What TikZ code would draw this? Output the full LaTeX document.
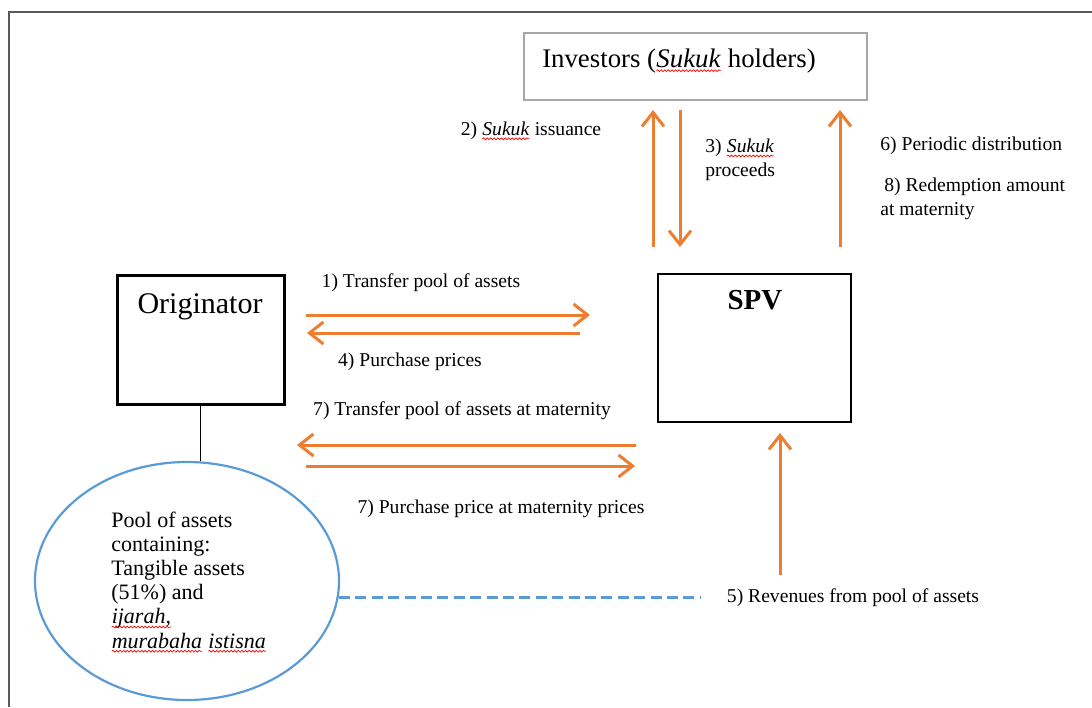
\documentclass[tikz,border=0pt]{standalone}
\usepackage{fontspec}
\setmainfont{Liberation Serif}
\usetikzlibrary{arrows.meta,decorations.pathmorphing,shapes.geometric}
\definecolor{orarrow}{HTML}{ED7D31}
\definecolor{blueline}{HTML}{5B9BD5}
\definecolor{framegray}{HTML}{595959}
\definecolor{boxgray}{HTML}{A6A6A6}
\newcommand{\squig}[1]{\tikz[baseline=(sqw.base),x=1pt,y=1pt]{\node[inner sep=0pt,outer sep=0pt,draw=none,anchor=base](sqw) at (0,0){#1};\draw[red,line width=0.35pt,decorate,decoration={snake,amplitude=0.45pt,segment length=1.8pt}]([yshift=-1.6pt]sqw.base west)--([yshift=-1.6pt]sqw.base east);}}
\begin{document}
\begin{tikzpicture}[x=0.5pt,y=-0.5pt,
  lbl/.style={font=\fontsize{9.8}{12}\selectfont, inner sep=0pt},
  oarrow/.style={draw=orarrow, line width=1.5pt, -{Straight Barb[length=7pt,width=11pt]}},
  blackbox/.style={draw=black, rectangle, inner sep=0pt}]
\useasboundingbox (0,0) rectangle (1092,707);
% frame
\coordinate (fbl) at (9,707);
\coordinate (ftl) at (9,12);
\coordinate (ftr) at (1092,12);
\draw[framegray, line width=1pt] (fbl) -- (ftl) -- (ftr);

% investors
\node[draw=boxgray, line width=1pt, rectangle, minimum width=171.5pt, minimum height=33.5pt, inner sep=0pt] (inv) at (695.5,66.5) {};
\node[font=\fontsize{13.4}{16}\selectfont, inner sep=0pt] (invtxt) at (679,61) {Investors (\squig{\textit{Sukuk}} holders)};

% originator
\node[blackbox, line width=1.5pt, minimum width=83.5pt, minimum height=64.5pt] (orig) at (200.5,339.5) {};
\node[font=\fontsize{15}{18}\selectfont, inner sep=0pt, anchor=base] (origtxt) at (200,313) {Originator};

% SPV
\node[blackbox, line width=1.2pt, minimum width=96.5pt, minimum height=74pt] (spv) at (754.5,348) {};
\node[font=\fontsize{14.5}{17}\selectfont\bfseries, inner sep=0pt] (spvtxt) at (755,300) {SPV};

% pool
\node[draw=blueline, line width=1.1pt, ellipse, minimum width=152pt, minimum height=119pt, inner sep=0pt] (pool) at (187,581) {};
\node[anchor=west, align=left, font=\fontsize{11}{12.1}\selectfont, inner sep=0pt] (pooltxt) at (111,582) {Pool of assets\\containing:\\Tangible assets\\(51\%) and\\\squig{\textit{ijarah,}}\\\squig{\textit{murabaha}} \squig{\textit{istisna}}};
\draw[black, line width=0.8pt] (orig.south) -- (orig.south |- pool.north);

% vertical arrows to investors
\coordinate (a2s) at (653,247); \coordinate (a2e) at (653,110);
\coordinate (a3s) at (680,110); \coordinate (a3e) at (680,247);
\coordinate (a6s) at (840,247); \coordinate (a6e) at (840,110);
\draw[oarrow] (a2s) -- (a2e);
\draw[oarrow] (a3s) -- (a3e);
\draw[oarrow] (a6s) -- (a6e);
\node[lbl] (l2) at (531,131) {2) \squig{\textit{Sukuk}} issuance};
\node[lbl, anchor=west, align=left] (l3) at (705,160) {3) \squig{\textit{Sukuk}}\\proceeds};
\node[lbl, anchor=west] (l6) at (880,146) {6) Periodic distribution};
\node[lbl, anchor=west, align=left] (l8) at (880,199) {\hspace*{2pt}8) Redemption amount\\at maternity};

% horizontal arrows
\coordinate (a1s) at (306,315); \coordinate (a1e) at (590,315);
\coordinate (a4s) at (580,333); \coordinate (a4e) at (307,333);
\coordinate (a7as) at (636,445); \coordinate (a7ae) at (297,445);
\coordinate (a7bs) at (306,466); \coordinate (a7be) at (635,466);
\draw[oarrow] (a1s) -- (a1e);
\draw[oarrow] (a4s) -- (a4e);
\draw[oarrow] (a7as) -- (a7ae);
\draw[oarrow] (a7bs) -- (a7be);
\node[lbl] (l1) at (421,283) {1) Transfer pool of assets};
\node[lbl] (l4) at (410,362) {4) Purchase prices};
\node[lbl] (l7a) at (462,411) {7) Transfer pool of assets at maternity};
\node[lbl] (l7b) at (501,509) {7) Purchase price at maternity prices};

% revenues
\coordinate (a5s) at (780,575); \coordinate (a5e) at (780,433);
\draw[oarrow] (a5s) -- (a5e);
\coordinate (d5s) at (339,597); \coordinate (d5e) at (700,597);
\draw[blueline, line width=1.5pt, dash pattern=on 5.5pt off 2.7pt] (d5s) -- (d5e);
\node[lbl] (l5) at (853,598) {5) Revenues from pool of assets};
\end{tikzpicture}
\end{document}
